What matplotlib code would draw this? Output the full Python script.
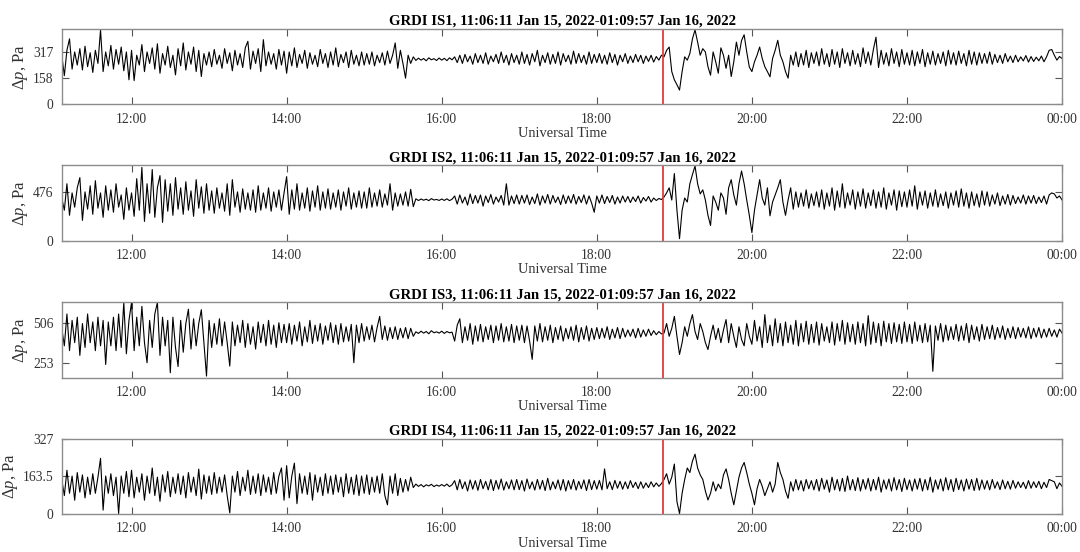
import matplotlib.pyplot as plt
import matplotlib.dates as mdates
import pandas as pd

plt.rcParams['font.family'] = ['Liberation Serif', 'DejaVu Serif']
plt.rcParams['mathtext.fontset'] = 'custom'
plt.rcParams['mathtext.rm'] = 'Liberation Serif'
plt.rcParams['mathtext.it'] = 'Liberation Serif:italic'

# values, one every 2 min from 11:06 Jan 15 to 00:00 Jan 16
start = '2022-01-15 11:06'
step = '2min'
event = '2022-01-15 18:51'
x_from = '2022-01-15 11:06:11'
x_to = '2022-01-16 00:00'

stations = ['GRDI IS1', 'GRDI IS2', 'GRDI IS3', 'GRDI IS4']
period = '11:06:11 Jan 15, 2022-01:09:57 Jan 16, 2022'

is1 = [300, 175, 330, 400, 215, 320, 240, 340, 210, 355, 230, 315, 195, 330, 250, 455, 200, 320, 235, 360, 215, 335, 245, 350, 205, 320, 150,
       330, 145, 300, 240, 365, 200, 320, 250, 345, 215, 370, 190, 310, 240, 355, 225, 300, 180, 340, 235, 375, 210, 320, 245, 350, 200, 330, 170, 310, 240,
       320, 230, 335, 245, 300, 220, 340, 250, 315, 205, 330, 240, 310, 225, 345, 385, 215, 325, 250, 340, 200, 395, 235, 320, 245, 310, 215, 335, 240, 325,
       190, 320, 235, 345, 225, 305, 250, 330, 220, 315, 245, 300, 230, 335, 250, 310, 225, 320, 240, 345, 230, 305, 255, 320, 225, 330, 245, 300, 235, 320,
       240, 310, 245, 320, 235, 300, 255, 315, 240, 325, 250, 300, 375, 220, 330, 250, 160, 300, 250, 290, 268, 282, 270, 280, 266, 284, 272, 279, 268, 283,
       270, 281, 267, 284, 272, 290, 255, 300, 250, 305, 260, 295, 245, 310, 255, 300, 250, 315, 245, 295, 260, 305, 250, 320, 255, 300, 240, 310, 255, 300,
       245, 320, 250, 305, 240, 310, 260, 330, 235, 300, 255, 315, 245, 305, 250, 320, 240, 310, 260, 300, 245, 325, 250, 310, 255, 300, 245, 320, 250, 305,
       255, 310, 250, 300, 245, 315, 255, 305, 240, 300, 260, 310, 250, 295, 255, 305, 260, 300, 250, 295, 262, 300, 258, 292, 270, 300, 290, 330, 350, 200,
       150, 120, 87, 200, 290, 270, 310, 400, 455, 380, 300, 340, 320, 230, 178, 320, 260, 190, 345, 300, 220, 300, 170, 260, 380, 300, 390, 425, 320, 228,
       200, 260, 300, 350, 280, 230, 200, 168, 280, 330, 391, 300, 260, 200, 160, 300, 240, 320, 230, 310, 240, 330, 225, 315, 250, 320, 235, 340, 245, 310,
       230, 335, 245, 320, 225, 340, 250, 315, 235, 330, 245, 310, 230, 345, 250, 320, 240, 335, 410, 225, 330, 245, 315, 235, 340, 250, 320, 230, 335, 245,
       315, 240, 330, 235, 320, 250, 335, 230, 315, 245, 325, 240, 310, 250, 320, 235, 330, 245, 315, 240, 325, 250, 310, 235, 330, 245, 320, 240, 315, 250,
       310, 250, 320, 245, 305, 255, 300, 250, 310, 260, 295, 255, 300, 260, 290, 265, 298, 258, 292, 262, 288, 266, 295, 260, 290, 330, 335, 300, 270, 292, 280]

is2 = [420, 300, 560, 250, 470, 330, 520, 620, 200, 480, 310, 540, 260, 590, 320, 470, 230, 540, 300, 500, 280, 560, 330, 450, 210, 520, 300,
       470, 240, 610, 300, 720, 190, 560, 270, 700, 230, 520, 640, 180, 600, 290, 560, 250, 620, 310, 520, 260, 580, 300, 490, 240, 600, 320, 530, 270, 560,
       300, 490, 270, 520, 320, 470, 290, 560, 250, 600, 330, 480, 280, 510, 310, 470, 300, 500, 280, 540, 300, 470, 320, 520, 290, 480, 330, 500, 300, 470,
       630, 260, 500, 310, 560, 300, 470, 320, 520, 290, 490, 330, 540, 300, 480, 320, 510, 310, 470, 330, 500, 300, 480, 340, 520, 310, 470, 330, 490, 320,
       480, 320, 520, 330, 470, 340, 500, 330, 460, 350, 560, 300, 470, 340, 460, 350, 480, 340, 505, 335, 412, 395, 410, 398, 408, 394, 414, 400, 406, 396,
       410, 396, 412, 394, 408, 440, 360, 450, 370, 430, 350, 460, 365, 445, 370, 450, 340, 440, 375, 455, 360, 430, 380, 445, 350, 560, 350, 440, 365, 450,
       360, 445, 370, 450, 355, 430, 365, 460, 350, 440, 370, 455, 360, 445, 375, 430, 355, 450, 365, 440, 370, 455, 360, 435, 375, 450, 360, 440, 370, 280,
       440, 370, 450, 365, 435, 375, 445, 360, 430, 370, 440, 380, 435, 375, 430, 385, 440, 370, 425, 390, 435, 380, 420, 395, 415, 405, 430, 470, 520, 400,
       660, 300, 20, 300, 420, 380, 560, 650, 735, 560, 460, 500, 400, 250, 150, 440, 380, 300, 470, 420, 260, 520, 600, 450, 350, 560, 685, 560, 400, 250,
       80, 300, 450, 600, 420, 350, 520, 245, 380, 450, 520, 600, 380, 250, 400, 520, 310, 480, 330, 470, 340, 500, 320, 460, 345, 480, 330, 500, 310, 470,
       340, 520, 300, 490, 330, 560, 320, 470, 350, 500, 310, 480, 340, 510, 320, 470, 345, 500, 320, 480, 330, 520, 310, 470, 350, 500, 300, 490, 335, 480,
       330, 500, 340, 540, 310, 480, 350, 490, 320, 470, 340, 500, 330, 460, 345, 480, 320, 470, 350, 490, 330, 510, 340, 470, 320, 480, 345, 460, 330, 490,
       350, 480, 340, 450, 360, 470, 345, 440, 360, 455, 350, 445, 365, 430, 370, 450, 360, 440, 370, 445, 365, 430, 375, 440, 360, 450, 470, 460, 420, 440, 400]

is3 = [470, 360, 560, 330, 520, 380, 540, 300, 500, 350, 560, 380, 510, 330, 540, 360, 520, 243, 510, 360, 540, 330, 560, 350, 633, 310, 520,
       633, 330, 540, 360, 608, 380, 254, 520, 350, 560, 633, 300, 540, 360, 520, 191, 540, 350, 230, 520, 320, 500, 590, 340, 530, 360, 500, 587, 380, 170,
       520, 350, 500, 370, 530, 360, 510, 380, 233, 510, 360, 490, 380, 520, 350, 500, 370, 480, 340, 510, 380, 495, 360, 520, 370, 490, 350, 505, 380, 495,
       380, 500, 370, 490, 390, 510, 360, 480, 385, 520, 375, 490, 390, 500, 370, 485, 395, 505, 380, 490, 370, 500, 385, 480, 390, 495, 254, 490, 380, 500,
       390, 480, 400, 490, 385, 475, 545, 400, 485, 395, 475, 405, 480, 400, 470, 410, 475, 405, 470, 420, 448, 438, 452, 440, 450, 436, 455, 442, 448, 440,
       452, 438, 450, 442, 446, 390, 490, 530, 380, 480, 395, 500, 370, 485, 390, 495, 385, 480, 400, 490, 380, 485, 395, 500, 385, 480, 390, 495, 380, 485,
       395, 490, 380, 485, 390, 275, 485, 390, 500, 385, 480, 395, 490, 380, 475, 400, 485, 390, 470, 405, 480, 395, 490, 385, 475, 400, 485, 390, 470, 400,
       475, 405, 470, 410, 480, 400, 465, 410, 475, 405, 470, 415, 460, 420, 465, 410, 470, 415, 460, 420, 465, 425, 455, 430, 450, 435, 440, 500, 420, 470,
       545, 420, 306, 380, 480, 420, 500, 556, 450, 400, 500, 450, 380, 337, 420, 490, 400, 470, 380, 460, 525, 380, 500, 420, 350, 480, 400, 360, 500, 420,
       370, 520, 390, 480, 350, 556, 380, 490, 360, 530, 380, 500, 360, 510, 380, 490, 370, 520, 360, 500, 385, 515, 370, 495, 380, 510, 365, 500, 390, 480,
       380, 510, 365, 500, 390, 520, 370, 505, 385, 495, 370, 510, 380, 500, 360, 550, 370, 510, 380, 500, 360, 515, 385, 500, 375, 505, 385, 495, 375, 510,
       385, 495, 375, 510, 390, 490, 380, 500, 385, 490, 200, 485, 395, 500, 385, 490, 395, 480, 400, 495, 390, 485, 395, 500, 380, 490, 400, 480, 390, 495,
       400, 480, 405, 490, 400, 475, 410, 485, 400, 470, 410, 480, 405, 475, 415, 470, 410, 480, 405, 470, 415, 475, 410, 465, 415, 470, 420, 460, 415, 465, 440]

is4 = [150, 80, 190, 90, 165, 60, 180, 95, 170, 70, 160, 85, 175, 90, 160, 242, 17, 165, 90, 175, 80, 160, 2, 165, 90, 185, 75,
       190, 70, 160, 95, 175, 60, 165, 90, 200, 80, 160, 55, 170, 95, 185, 75, 160, 90, 175, 85, 165, 70, 180, 95, 160, 80, 195, 65, 170, 90,
       165, 85, 180, 90, 160, 95, 170, 80, 5, 165, 95, 185, 80, 160, 100, 190, 85, 165, 90, 175, 80, 170, 95, 160, 85, 180, 90, 165, 200, 60,
       210, 70, 165, 221, 45, 175, 90, 165, 85, 180, 60, 170, 95, 160, 80, 175, 90, 165, 85, 170, 95, 160, 75, 175, 90, 160, 85, 170, 80, 165,
       90, 170, 85, 160, 95, 165, 90, 175, 80, 40, 165, 90, 175, 80, 155, 95, 150, 100, 160, 115, 130, 120, 128, 118, 127, 122, 129, 119, 126, 121,
       128, 121, 130, 119, 127, 145, 105, 150, 110, 140, 100, 148, 108, 145, 103, 150, 110, 142, 105, 150, 102, 146, 108, 152, 104, 140, 110, 148, 105, 150,
       106, 145, 100, 152, 110, 140, 104, 150, 108, 146, 102, 155, 105, 140, 110, 148, 104, 150, 100, 145, 108, 150, 104, 142, 110, 148, 102, 150, 106, 145,
       108, 146, 105, 196, 110, 140, 106, 146, 112, 142, 108, 140, 110, 145, 115, 138, 110, 140, 112, 135, 115, 140, 118, 135, 120, 132, 150, 175, 130, 160,
       217, 54, 2, 90, 150, 200, 180, 230, 260, 200, 170, 150, 100, 61, 90, 140, 100, 130, 110, 170, 196, 150, 90, 40, 100, 160, 200, 224, 180, 130,
       90, 40, 110, 150, 120, 80, 110, 140, 95, 130, 224, 180, 150, 100, 68, 140, 100, 150, 105, 145, 100, 150, 110, 145, 105, 150, 100, 155, 108, 148,
       95, 160, 105, 150, 100, 155, 98, 165, 105, 150, 102, 158, 100, 150, 108, 155, 100, 150, 105, 160, 95, 148, 108, 152, 100, 158, 105, 150, 98, 155,
       106, 148, 100, 152, 108, 155, 100, 150, 105, 160, 95, 148, 108, 152, 100, 158, 105, 150, 98, 155, 106, 148, 100, 152, 108, 150, 102, 155, 104, 148,
       108, 145, 105, 150, 112, 140, 106, 148, 110, 142, 108, 146, 112, 140, 115, 138, 110, 145, 112, 140, 115, 142, 110, 138, 115, 150, 145, 140, 110, 135, 120]

series = [is1, is2, is3, is4]
yticks = [[0, 158, 317], [0, 476], [253, 506], [0, 163.5, 327]]
ylims = [(0, 460), (0, 740), (160, 633), (0, 327)]

assert all(len(s) == 388 for s in series), [len(s) for s in series]
t = pd.date_range(start, periods=len(is1), freq=step)

fig = plt.figure(figsize=(10.8, 5.52), dpi=100)
bottoms = [0.811, 0.5639, 0.3158, 0.0688]
axc = '#8c8c8c'
txt = '#333333'

for k in range(4):
    ax = fig.add_axes([0.0574, bottoms[k], 0.926, 0.1364])
    ax.plot(t, series[k], color='black', lw=0.8)
    ax.axvline(pd.Timestamp(event), color='#e23b3b', lw=1.3)
    ax.set_xlim(pd.Timestamp(x_from), pd.Timestamp(x_to))
    ax.set_ylim(*ylims[k])
    ax.set_yticks(yticks[k])
    ax.set_yticklabels([f'{v:g}' for v in yticks[k]])
    ax.xaxis.set_major_locator(mdates.HourLocator(byhour=range(0, 24, 2)))
    ax.xaxis.set_major_formatter(mdates.DateFormatter('%H:%M'))
    ax.tick_params(direction='in', length=5, width=0.8, color='#555555',
                   labelsize=9.8, labelcolor=txt, top=True, right=True, pad=6)
    for s in ax.spines.values():
        s.set_color(axc)
        s.set_linewidth(1.0)
    ax.set_title(f'{stations[k]}, {period}', fontsize=10.6, fontweight='bold', pad=3)
    ax.set_xlabel('Universal Time', fontsize=10.4, color=txt, labelpad=1)
    ax.set_ylabel(r'$\Delta p$, Pa', fontsize=12, color=txt, labelpad=2)

fig.savefig('out.png', dpi=100)
